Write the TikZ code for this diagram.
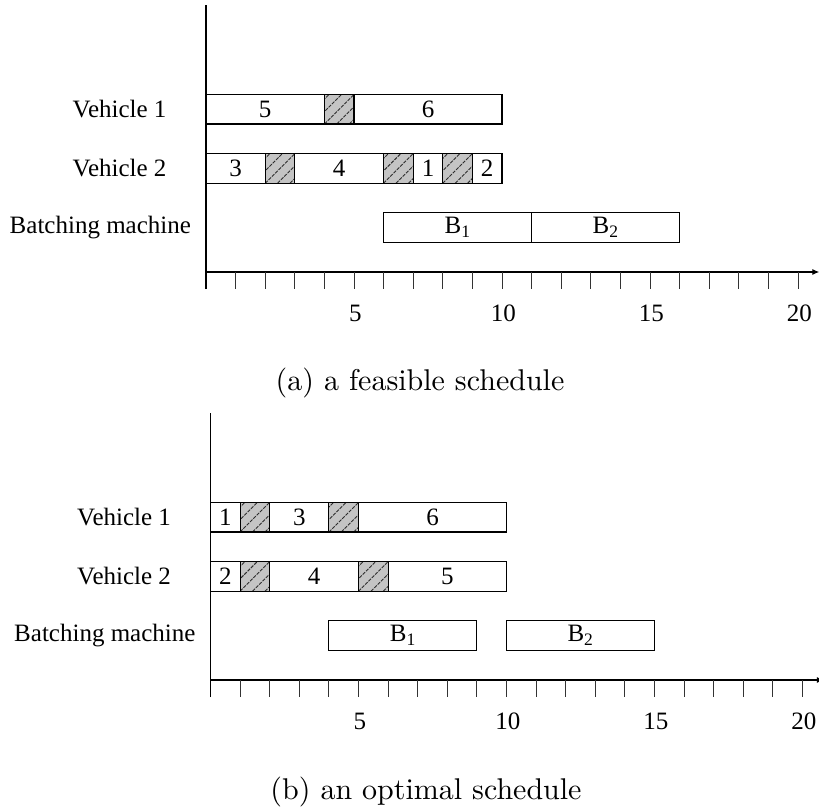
\documentclass[tikz,border=0pt]{standalone}
\usepackage{fontspec}
\newfontfamily\timesfont{Liberation Serif}
\newfontfamily\capfont{lmroman10-regular.otf}
\usetikzlibrary{arrows.meta}

\definecolor{hatchfill}{RGB}{196,196,196}
\definecolor{hatchink}{RGB}{45,45,45}

\tikzset{
  segbox/.style={draw=black, line width=1.1pt},
  hatchstroke/.style={draw=hatchink, line width=0.9pt, dash pattern=on 3.5pt off 1.2pt},
  axisline/.style={draw=black, line width=1.2pt},
  tickline/.style={draw=black!80, line width=1pt},
  chartfont/.style={font=\timesfont\fontsize{25}{29}\selectfont, inner sep=0pt},
  numlbl/.style={chartfont},
  rowlbl/.style={chartfont},
  segtext/.style={chartfont},
  captiontext/.style={font=\capfont\fontsize{30}{34}\selectfont, inner sep=0pt},
  unitgrid/.style={x=29.6pt, y=29.6pt}
}

% plain job segment: start, end, row base, label
\newcommand{\jobseg}[4]{%
  \draw[segbox, fill=white] (#1,#3) rectangle (#2,#3+1);
  \node[segtext] at ({(#1+#2)/2},#3+0.5) {#4};
}

% hatched idle segment: start, end, row base
\newcommand{\idleseg}[3]{%
  \fill[hatchfill] (#1,#3) rectangle (#2,#3+1);
  \begin{scope}
    \clip (#1,#3) rectangle (#2,#3+1);
    \foreach \c in {-0.84,-0.42,0,0.42,0.84} {
      \draw[hatchstroke] ({#1+\c},#3) -- ({#1+\c+1},#3+1);
    }
  \end{scope}
  \draw[segbox] (#1,#3) rectangle (#2,#3+1);
}

% axes, ticks and row captions of one chart
\newcommand{\chartframe}[1]{%
  \draw[axisline] (0,-0.58) -- (0,9.02);
  \draw[axisline, -{Latex[length=7pt, width=6pt]}] (0,0) -- (20.72,0);
  \foreach \i in {1,...,20} {
    \draw[tickline] (\i,0) -- (\i,-0.58);
  }
  \foreach \i in {5,10,15,20} {
    \node[numlbl] (#1tick\i) at (\i+0.05,-1.39) {\i};
  }
  \node[rowlbl] (#1v1) at (-2.92,5.5) {Vehicle 1};
  \node[rowlbl] (#1v2) at (-2.92,3.5) {Vehicle 2};
  \node[rowlbl] (#1bm) at (-3.57,1.5) {Batching machine};
}

\begin{document}
\begin{tikzpicture}[x=1pt, y=1pt]
  \useasboundingbox (0,0) rectangle (819,807);

  % (a) feasible schedule
  \begin{scope}[shift={(206,535)}, unitgrid]
    \chartframe{a}
    % vehicle 1
    \jobseg{0}{4}{5}{5}
    \idleseg{4}{5}{5}
    \jobseg{5}{10}{5}{6}
    % vehicle 2
    \jobseg{0}{2}{3}{3}
    \idleseg{2}{3}{3}
    \jobseg{3}{6}{3}{4}
    \idleseg{6}{7}{3}
    \jobseg{7}{8}{3}{1}
    \idleseg{8}{9}{3}
    \jobseg{9}{10}{3}{2}
    % batching machine
    \jobseg{6}{11}{1}{B\textsubscript{1}}
    \jobseg{11}{16}{1}{B\textsubscript{2}}
  \end{scope}
  \node[captiontext] (capa) at (420,424) {(a) a feasible schedule};

  % (b) optimal schedule
  \begin{scope}[shift={(210.5,127)}, unitgrid]
    \chartframe{b}
    % vehicle 1
    \jobseg{0}{1}{5}{1}
    \idleseg{1}{2}{5}
    \jobseg{2}{4}{5}{3}
    \idleseg{4}{5}{5}
    \jobseg{5}{10}{5}{6}
    % vehicle 2
    \jobseg{0}{1}{3}{2}
    \idleseg{1}{2}{3}
    \jobseg{2}{5}{3}{4}
    \idleseg{5}{6}{3}
    \jobseg{6}{10}{3}{5}
    % batching machine
    \jobseg{4}{9}{1}{B\textsubscript{1}}
    \jobseg{10}{15}{1}{B\textsubscript{2}}
  \end{scope}
  \node[captiontext] (capb) at (426,15) {(b) an optimal schedule};
\end{tikzpicture}
\end{document}
